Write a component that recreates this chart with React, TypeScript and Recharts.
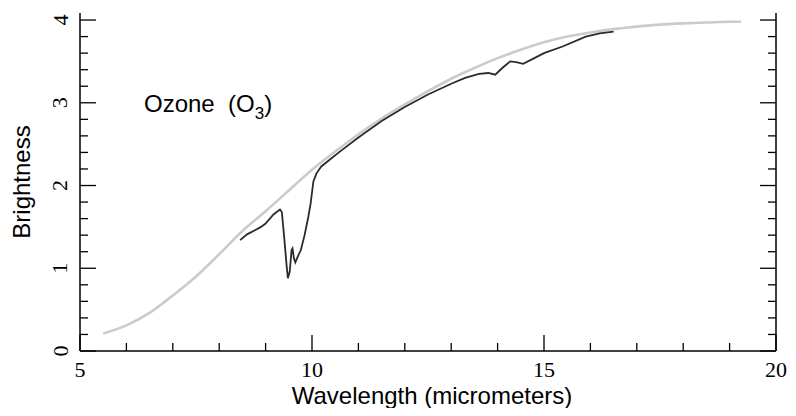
import { LineChart, Line, XAxis, YAxis } from "recharts";

// smooth (model) curve
const smoothWavelength = [
  5.5, 6, 6.5, 7, 7.5, 8, 8.5, 9, 9.5, 10, 10.5, 11, 11.5, 12, 12.5, 13, 13.5,
  14, 14.5, 15, 15.5, 16, 16.5, 17, 17.5, 18, 18.5, 19, 19.25,
];
const smoothBrightness = [
  0.21, 0.31, 0.46, 0.67, 0.9, 1.17, 1.45, 1.69, 1.94, 2.19, 2.41, 2.62, 2.81,
  2.98, 3.14, 3.29, 3.42, 3.54, 3.64, 3.73, 3.8, 3.85, 3.89, 3.92, 3.945, 3.96,
  3.97, 3.98, 3.98,
];

// measured spectrum
const measuredWavelength = [
  8.45, 8.6, 8.77, 8.9, 9.0, 9.17, 9.31, 9.35, 9.4, 9.45, 9.48, 9.52, 9.56,
  9.58, 9.61, 9.64, 9.7, 9.76, 9.84, 9.92, 9.97, 10.03, 10.1, 10.2, 10.4, 10.6,
  11.0, 11.5, 12.0, 12.5, 13.0, 13.3, 13.6, 13.8, 13.95, 14.1, 14.27, 14.4,
  14.55, 14.76, 15.0, 15.4, 15.9, 16.2, 16.5,
];
const measuredBrightness = [
  1.34, 1.41, 1.46, 1.5, 1.54, 1.65, 1.71, 1.68, 1.38, 1.05, 0.88, 0.96, 1.22,
  1.24, 1.12, 1.07, 1.15, 1.22, 1.4, 1.62, 1.78, 2.05, 2.15, 2.23, 2.32, 2.41,
  2.58, 2.78, 2.95, 3.1, 3.23, 3.3, 3.35, 3.36, 3.34, 3.42, 3.5, 3.49, 3.47,
  3.53, 3.6, 3.68, 3.8, 3.84, 3.86,
];

const xTicks = [5, 6, 7, 8, 9, 10, 11, 12, 13, 14, 15, 16, 17, 18, 19, 20];
const xLabels = [5, 10, 15, 20];
const yTicks = [
  0, 0.2, 0.4, 0.6, 0.8, 1, 1.2, 1.4, 1.6, 1.8, 2, 2.2, 2.4, 2.6, 2.8, 3, 3.2,
  3.4, 3.6, 3.8, 4,
];
const yLabels = [0, 1, 2, 3, 4];

const smoothData = smoothWavelength.map((w, i) => ({ w, b: smoothBrightness[i] }));
const measuredData = measuredWavelength.map((w, i) => ({ w, b: measuredBrightness[i] }));

const tickFont = "'Liberation Serif', 'DejaVu Serif', serif";
const labelFont = "'Liberation Sans', Arial, sans-serif";

const BottomTick = (props: any) => {
  const { x, y, payload } = props;
  const major = xLabels.includes(payload.value);
  return (
    <g>
      <line x1={x} x2={x} y1={y} y2={y - (major ? 16 : 8)} stroke="#000" strokeWidth={1.3} />
      {major && (
        <text
          x={x}
          y={y + 18}
          textAnchor="middle"
          dominantBaseline="central"
          fontFamily={tickFont}
          fontSize={22}
          fill="#000"
        >
          {payload.value}
        </text>
      )}
    </g>
  );
};

const LeftTick = (props: any) => {
  const { x, y, payload } = props;
  const major = yLabels.some((v) => Math.abs(v - payload.value) < 1e-6);
  return (
    <g>
      <line x1={x} x2={x + (major ? 16 : 8)} y1={y} y2={y} stroke="#000" strokeWidth={1.3} />
      {major && (
        <text
          x={x - 20}
          y={y}
          textAnchor="middle"
          dominantBaseline="central"
          transform={`rotate(-90, ${x - 20}, ${y})`}
          fontFamily={tickFont}
          fontSize={22}
          fill="#000"
        >
          {Math.round(payload.value)}
        </text>
      )}
    </g>
  );
};

const RightTick = (props: any) => {
  const { x, y, payload } = props;
  const major = yLabels.some((v) => Math.abs(v - payload.value) < 1e-6);
  return <line x1={x} x2={x - (major ? 16 : 8)} y1={y} y2={y} stroke="#000" strokeWidth={1.3} />;
};

export default function App() {
  return (
    <div style={{ position: "relative", width: 780, height: 400 }}>
      <LineChart
        width={780}
        height={400}
        margin={{ top: 5, right: 11, left: 71, bottom: 56 }}
      >
        <XAxis
          type="number"
          dataKey="w"
          domain={[5, 20]}
          ticks={xTicks}
          interval={0}
          height={1}
          tickSize={0}
          tickMargin={0}
          tickLine={false}
          axisLine={{ stroke: "#000", strokeWidth: 1.5 }}
          tick={<BottomTick />}
          allowDataOverflow
        />
        <YAxis
          yAxisId="left"
          type="number"
          domain={[0, 4.085]}
          ticks={yTicks}
          interval={0}
          width={1}
          tickSize={0}
          tickMargin={0}
          tickLine={false}
          axisLine={{ stroke: "#000", strokeWidth: 1.5 }}
          tick={<LeftTick />}
          allowDataOverflow
        />
        <YAxis
          yAxisId="right"
          orientation="right"
          type="number"
          domain={[0, 4.085]}
          ticks={yTicks}
          interval={0}
          width={1}
          tickSize={0}
          tickMargin={0}
          tickLine={false}
          axisLine={{ stroke: "#000", strokeWidth: 1.5 }}
          tick={<RightTick />}
          allowDataOverflow
        />
        <Line
          yAxisId="left"
          data={smoothData}
          dataKey="b"
          type="monotone"
          stroke="#cbcbcb"
          strokeWidth={2.6}
          dot={false}
          isAnimationActive={false}
        />
        <Line
          yAxisId="left"
          data={measuredData}
          dataKey="b"
          type="linear"
          stroke="#2b2b2b"
          strokeWidth={1.8}
          dot={false}
          isAnimationActive={false}
        />
      </LineChart>
      <div
        style={{
          position: "absolute",
          left: 14,
          top: 174,
          transform: "translate(-50%, -50%) rotate(-90deg)",
          fontFamily: labelFont,
          fontSize: 24,
          whiteSpace: "nowrap",
        }}
      >
        Brightness
      </div>
      <div
        style={{
          position: "absolute",
          left: 424,
          top: 388,
          transform: "translate(-50%, -50%)",
          fontFamily: labelFont,
          fontSize: 24,
          lineHeight: "26px",
          whiteSpace: "nowrap",
        }}
      >
        Wavelength (micrometers)
      </div>
      <div
        style={{
          position: "absolute",
          left: 136,
          top: 81,
          fontFamily: labelFont,
          fontSize: 24,
          whiteSpace: "pre",
          lineHeight: "30px",
        }}
      >
        Ozone  (O<sub style={{ fontSize: 17, verticalAlign: -7 }}>3</sub>)
      </div>
    </div>
  );
}
